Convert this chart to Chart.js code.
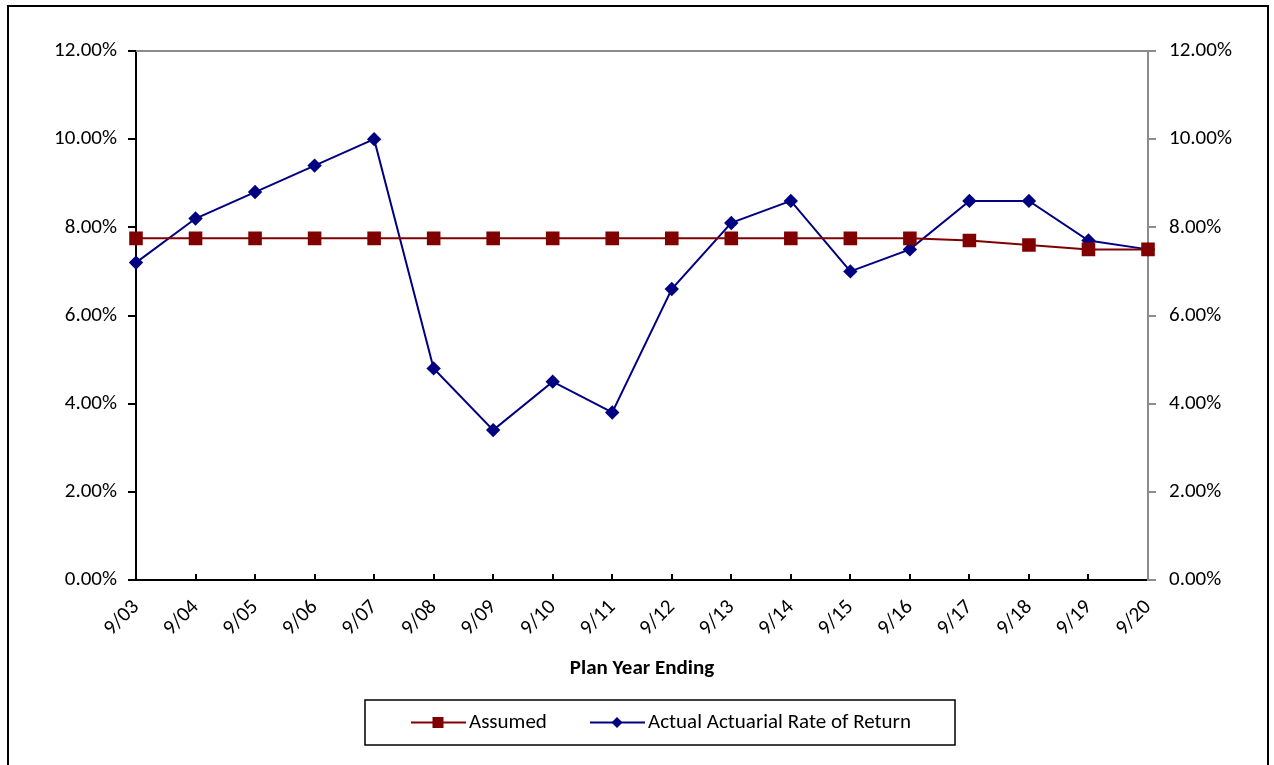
<!DOCTYPE html>
<html>
<head>
<meta charset="utf-8">
<title>Assumed vs Actual Actuarial Rate of Return</title>
<script src="https://cdn.jsdelivr.net/npm/chart.js@4.4.1/dist/chart.umd.min.js"></script>
<style>
  html, body { margin: 0; padding: 0; background: #ffffff; }
  #wrap { width: 1274px; height: 765px; position: relative; }
</style>
</head>
<body>
<div id="wrap"><canvas id="chart" width="1274" height="765"></canvas></div>
<script>
// Plan years (fiscal year ending September)
const planYears = ['9/03','9/04','9/05','9/06','9/07','9/08','9/09','9/10','9/11',
                   '9/12','9/13','9/14','9/15','9/16','9/17','9/18','9/19','9/20'];
// Assumed rate of return (%)
const assumedRate = [7.75,7.75,7.75,7.75,7.75,7.75,7.75,7.75,7.75,
                     7.75,7.75,7.75,7.75,7.75,7.70,7.60,7.50,7.50];
// Actual actuarial rate of return (%)
const actualRate = [7.2,8.2,8.8,9.4,10.0,4.8,3.4,4.5,3.8,
                    6.6,8.1,8.6,7.0,7.5,8.6,8.6,7.7,7.5];
const seriesNames = ['Assumed', 'Actual Actuarial Rate of Return'];
const axisTitle = 'Plan Year Ending';

const FONT = 'Carlito, Lato, "Open Sans", sans-serif';
const RED = '#800000';
const NAVY = '#000080';
const GRAY = '#8c8c8c';

// Frame, top border of the plot, inward x ticks and the boxed legend
const decorations = {
  id: 'decorations',
  beforeDraw(chart) {
    const ctx = chart.ctx;
    ctx.save();
    ctx.fillStyle = '#ffffff';
    ctx.fillRect(0, 0, chart.width, chart.height);
    ctx.restore();
  },
  afterDraw(chart) {
    const ctx = chart.ctx;
    const a = chart.chartArea;
    const xs = chart.scales.x;
    ctx.save();
    // outer frame
    ctx.strokeStyle = '#000000';
    ctx.lineWidth = 2;
    ctx.strokeRect(8, 6, 1260, 780);
    // top border of plot area
    ctx.strokeStyle = GRAY;
    ctx.lineWidth = 2;
    ctx.beginPath();
    ctx.moveTo(a.left, a.top);
    ctx.lineTo(a.right, a.top);
    ctx.stroke();
    // x ticks pointing into the plot
    ctx.strokeStyle = '#000000';
    ctx.lineWidth = 2;
    ctx.beginPath();
    for (let i = 1; i < planYears.length - 1; i++) {
      const px = Math.round(xs.getPixelForTick(i));
      ctx.moveTo(px, a.bottom);
      ctx.lineTo(px, a.bottom - 6);
    }
    ctx.stroke();

    // legend box
    const box = { x: 365, y: 700, w: 590, h: 45 };
    ctx.strokeStyle = '#000000';
    ctx.lineWidth = 1.5;
    ctx.strokeRect(box.x, box.y, box.w, box.h);
    ctx.font = '21px ' + FONT;
    ctx.textBaseline = 'middle';
    ctx.textAlign = 'left';
    const cy = box.y + box.h / 2;
    const items = [
      { x: 411, color: RED, style: 'rect' },
      { x: 590, color: NAVY, style: 'rectRot' }
    ];
    chart.data.datasets.forEach((ds, i) => {
      const it = items[i];
      ctx.strokeStyle = it.color;
      ctx.lineWidth = 2;
      ctx.beginPath();
      ctx.moveTo(it.x, cy);
      ctx.lineTo(it.x + 55, cy);
      ctx.stroke();
      ctx.fillStyle = it.color;
      const mx = it.x + 27;
      if (it.style === 'rect') {
        ctx.fillRect(mx - 5.5, cy - 5.5, 11, 11);
      } else {
        ctx.beginPath();
        ctx.moveTo(mx, cy - 5.5);
        ctx.lineTo(mx + 5.5, cy);
        ctx.lineTo(mx, cy + 5.5);
        ctx.lineTo(mx - 5.5, cy);
        ctx.closePath();
        ctx.fill();
      }
      ctx.fillStyle = '#000000';
      ctx.fillText(ds.label, it.x + 58, cy);
    });
    ctx.restore();
  }
};

const pct = v => v.toFixed(2) + '%';

new Chart(document.getElementById('chart'), {
  type: 'line',
  data: {
    labels: planYears,
    datasets: [
      {
        label: seriesNames[0],
        data: assumedRate,
        borderColor: RED,
        backgroundColor: RED,
        borderWidth: 2,
        pointStyle: 'rect',
        pointRadius: 9.6,
        pointHoverRadius: 9.6,
        pointBorderWidth: 0,
        tension: 0,
        yAxisID: 'y'
      },
      {
        label: seriesNames[1],
        data: actualRate,
        borderColor: NAVY,
        backgroundColor: NAVY,
        borderWidth: 2,
        pointStyle: 'rectRot',
        pointRadius: 7.2,
        pointHoverRadius: 7.2,
        pointBorderWidth: 0,
        tension: 0,
        yAxisID: 'y'
      }
    ]
  },
  options: {
    responsive: false,
    animation: false,
    events: [],
    layout: { padding: { top: 51, left: 0, right: 0, bottom: 84 } },
    plugins: {
      legend: { display: false },
      tooltip: { enabled: false }
    },
    scales: {
      x: {
        type: 'category',
        offset: false,
        grid: { display: false },
        border: { display: true, color: '#000000', width: 2 },
        ticks: {
          autoSkip: false,
          maxRotation: 45,
          minRotation: 45,
          padding: 7,
          color: '#000000',
          font: { family: FONT, size: 21 }
        },
        title: {
          display: true,
          text: axisTitle,
          color: '#000000',
          padding: 0,
          font: { family: FONT, size: 21, weight: 'bold' }
        },
        afterFit(scale) { scale.height = 101; }
      },
      y: {
        position: 'left',
        min: 0,
        max: 12,
        grid: {
          drawOnChartArea: false,
          drawTicks: true,
          tickLength: 8,
          color: '#000000',
          lineWidth: 2
        },
        border: { display: true, color: '#000000', width: 2 },
        ticks: {
          stepSize: 2,
          padding: 11,
          color: '#000000',
          font: { family: FONT, size: 21 },
          callback: pct
        },
        afterFit(scale) { scale.width = 136; }
      },
      y2: {
        position: 'right',
        min: 0,
        max: 12,
        grid: {
          drawOnChartArea: false,
          drawTicks: true,
          tickLength: 8,
          color: GRAY,
          lineWidth: 2
        },
        border: { display: true, color: GRAY, width: 2 },
        ticks: {
          stepSize: 2,
          padding: 13,
          color: '#000000',
          font: { family: FONT, size: 21 },
          callback: pct
        },
        afterFit(scale) { scale.width = 126; }
      }
    }
  },
  plugins: [decorations]
});
</script>
</body>
</html>
